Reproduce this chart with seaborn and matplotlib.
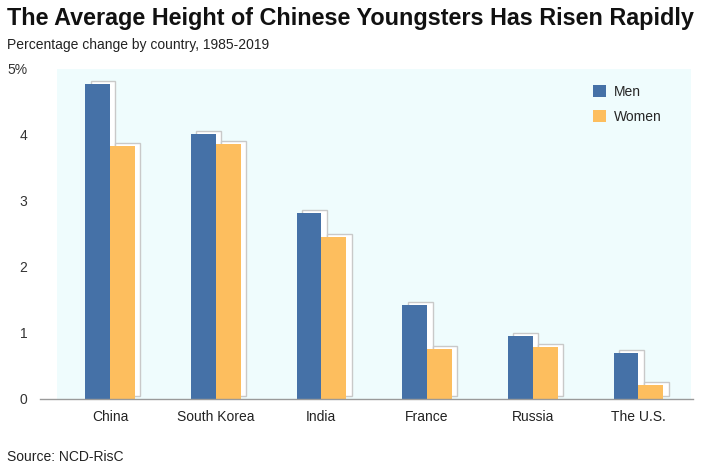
import matplotlib
matplotlib.use("Agg")
import matplotlib.pyplot as plt
import matplotlib.transforms as mtransforms
import seaborn as sns
import pandas as pd

# data
countries = ["China", "South Korea", "India", "France", "Russia", "The U.S."]
men = [4.77, 4.02, 2.82, 1.42, 0.95, 0.69]
women = [3.84, 3.87, 2.45, 0.76, 0.79, 0.21]
y_ticks = [0, 1, 2, 3, 4, 5]
y_labels = ["0", "1", "2", "3", "4", "5%"]

df = pd.DataFrame({
    "country": countries * 2,
    "value": men + women,
    "sex": ["Men"] * len(countries) + ["Women"] * len(countries),
})

sns.set_style("white")
plt.rcParams["font.family"] = ["Liberation Sans", "DejaVu Sans"]

fig = plt.figure(figsize=(7.05, 4.7), dpi=100)
ax = fig.add_axes([40 / 705, 1 - 399 / 470, 653 / 705, 330 / 470])

# light cyan plot area
ax.axvspan(-0.5, 5.5, color="#effcfd", zorder=0, lw=0)
n_bg = len(ax.patches)

# white "shadow" bars offset up-right
sns.barplot(data=df, x="country", y="value", hue="sex", order=countries,
            palette={"Men": "white", "Women": "white"}, width=0.47,
            edgecolor="#c9c9c9", linewidth=1, legend=False, ax=ax, zorder=1)
shift = mtransforms.ScaledTranslation(5.5 / 100, 3 / 100, fig.dpi_scale_trans)
for p in ax.patches[n_bg:]:
    p.set_transform(ax.transData + shift)

sns.barplot(data=df, x="country", y="value", hue="sex", order=countries,
            palette={"Men": "#4571a7", "Women": "#fdbe5e"}, width=0.47,
            saturation=1, edgecolor="none", ax=ax, zorder=2)

ax.set_xlim(-0.662, 5.516)
ax.set_ylim(0, 5)
ax.set_yticks(y_ticks)
ax.set_yticklabels(y_labels)
ax.set_xlabel("")
ax.set_ylabel("")
for s in ["top", "right", "left"]:
    ax.spines[s].set_visible(False)
ax.spines["bottom"].set_color("#9a9a9a")
ax.spines["bottom"].set_linewidth(1)
ax.spines["bottom"].set_zorder(3)
ax.tick_params(axis="y", direction="in", length=9, width=1, color="#cccccc",
               pad=9, labelsize=10, labelcolor="#333333")
ax.tick_params(axis="x", length=0, pad=8, labelsize=10, labelcolor="#222222")
ax.set_facecolor("none")

sns.move_legend(ax, loc="upper left", bbox_to_anchor=(580 / 705, 1 - 72 / 470),
                bbox_transform=fig.transFigure, frameon=False, title=None,
                handlelength=0.95, handleheight=0.95, handletextpad=0.6,
                labelspacing=0.8, fontsize=10)

fig.text(7 / 705, 1 - 7 / 470, "The Average Height of Chinese Youngsters Has Risen Rapidly",
         fontsize=16.8, fontweight="bold", va="top", ha="left", color="#111111",
         family=["Liberation Sans Narrow", "Liberation Sans", "DejaVu Sans"])
fig.text(7 / 705, 1 - 38 / 470, "Percentage change by country, 1985-2019",
         fontsize=10, va="top", ha="left", color="#222222")
fig.text(7 / 705, 1 - 450 / 470, "Source: NCD-RisC",
         fontsize=10, va="top", ha="left", color="#222222")

fig.savefig("out.png", dpi=100)
